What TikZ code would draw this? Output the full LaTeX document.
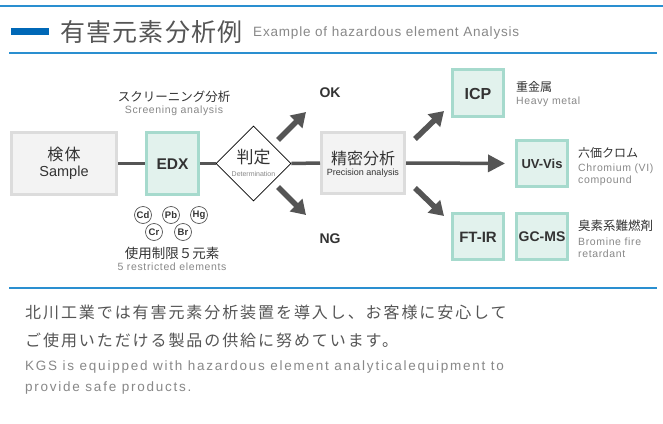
\documentclass[tikz,border=0pt]{standalone}
\usepackage{fontspec}
\setmainfont{Liberation Sans}
\newfontfamily\jp{Noto Sans CJK JP}
\newfontfamily\jpt[LetterSpace=5]{Noto Sans CJK JP}
\newfontfamily\jpsp[LetterSpace=9]{Noto Sans CJK JP}
\newfontfamily\jpbody[LetterSpace=12]{Noto Sans CJK JP}
\newfontfamily\lsp[LetterSpace=6]{Liberation Sans}
\newfontfamily\lspw[LetterSpace=13]{Liberation Sans}
\newfontfamily\bsans{Liberation Sans Bold}
\usetikzlibrary{shapes.geometric,arrows.meta}
\definecolor{blueline}{HTML}{2A8FD0}
\definecolor{bluebar}{HTML}{0068B7}
\definecolor{conncol}{HTML}{555555}
\definecolor{gboxfill}{HTML}{F3F3F3}
\definecolor{gboxdraw}{HTML}{DCDCDC}
\definecolor{tboxfill}{HTML}{E2F2ED}
\definecolor{tboxdraw}{HTML}{A6DACD}
\definecolor{darktext}{HTML}{333333}
\definecolor{midtext}{HTML}{555555}
\definecolor{lighttext}{HTML}{888888}
\newcommand\fsz[1]{\fontsize{#1}{#1}\selectfont}
\begin{document}
\begin{tikzpicture}[x=1pt,y=-1pt,
  graybox/.style={draw=gboxdraw,fill=gboxfill,line width=3pt,inner sep=0pt},
  tealbox/.style={draw=tboxdraw,fill=tboxfill,line width=3pt,inner sep=0pt},
  conn/.style={draw=conncol,line width=3.5pt},
  bigarrow/.style={draw=conncol,line width=5.5pt,-{Triangle[length=14pt,width=17pt]}},
  harrow/.style={draw=conncol,line width=3.5pt,-{Triangle[length=17pt,width=17pt]}},
  elem/.style={circle,draw=conncol,line width=0.7pt,minimum size=17pt,inner sep=0pt,font=\fsz{9.5}\bfseries,text=darktext,fill=white},
  lbl/.style={inner sep=0pt},
  ]
\useasboundingbox[fill=white] (0,0) rectangle (663,423);
% header
\draw[blueline,line width=2pt] (0,5.5) -- (663,5.5);
\draw[blueline,line width=2pt] (9,53) -- (657,53);
\fill[bluebar] (11,28) rectangle (49,34.5);
\node[lbl,anchor=west,text=midtext,font=\jpt\fsz{25}] (title) at (60,32) {有害元素分析例};
\node[lbl,anchor=west,text=lighttext,font=\lsp\fsz{13.5}] (etitle) at (253,33) {Example of hazardous element Analysis};
% boxes
\node[graybox,minimum width=105pt,minimum height=62pt] (sample) at (64,163.5) {};
\node[lbl,text=darktext,font=\jpsp\fsz{16}] (sampleJ) at (64,154) {検体};
\node[lbl,text=darktext,font=\fsz{14.5}] (sampleE) at (64,173) {Sample};
\node[tealbox,minimum width=52pt,minimum height=62pt] (edx) at (172.5,163.5) {};
\node[lbl,text=darktext,font=\bsans\fsz{15.5}] (edxT) at (172.5,164) {EDX};
\node[diamond,draw=black,line width=0.8pt,fill=white,minimum width=75pt,minimum height=75pt,inner sep=0pt] (judge) at (253.5,163.5) {};
\node[lbl,text=darktext,font=\jp\fsz{17}] (judgeJ) at (253.5,157.5) {判定};
\node[lbl,text=lighttext,font=\fsz{7}] (judgeE) at (253.5,174) {Determination};
\node[graybox,minimum width=83pt,minimum height=61pt] (prec) at (363,163) {};
\node[lbl,text=darktext,font=\jp\fsz{16}] (precJ) at (363,158) {精密分析};
\node[lbl,text=darktext,font=\fsz{9}] (precE) at (363,173) {Precision analysis};
\node[tealbox,minimum width=51pt,minimum height=47pt] (icp) at (478,93) {};
\node[lbl,text=darktext,font=\bsans\fsz{16}] (icpT) at (478,94) {ICP};
\node[tealbox,minimum width=51pt,minimum height=46pt] (uvvis) at (542,163.5) {};
\node[lbl,text=darktext,font=\bsans\fsz{13}] (uvvisT) at (542,164) {UV-Vis};
\node[tealbox,minimum width=51pt,minimum height=46pt] (ftir) at (478,236.5) {};
\node[lbl,text=darktext,font=\bsans\fsz{15}] (ftirT) at (478,237) {FT-IR};
\node[tealbox,minimum width=51pt,minimum height=46pt] (gcms) at (542,236.5) {};
\node[lbl,text=darktext,font=\bsans\fsz{14}] (gcmsT) at (542,237) {GC-MS};
% labels
\node[lbl,text=darktext,font=\jp\fsz{12.5}] (scrJ) at (174,97) {スクリーニング分析};
\node[lbl,text=lighttext,font=\lsp\fsz{10.5}] (scrE) at (174,111) {Screening analysis};
\node[elem] (cd) at (143,215) {Cd};
\node[elem] (pb) at (171,215) {Pb};
\node[elem] (hg) at (199,215) {Hg};
\node[elem] (cr) at (154,232) {Cr};
\node[elem] (br) at (183,232) {Br};
\node[lbl,text=darktext,font=\jp\fsz{13.5}] (resJ) at (172,253) {使用制限５元素};
\node[lbl,text=lighttext,font=\lsp\fsz{10.5}] (resE) at (172,267) {5 restricted elements};
\node[lbl,text=darktext,font=\bsans\fsz{14}] (ok) at (330,93) {OK};
\node[lbl,text=darktext,font=\bsans\fsz{14}] (ng) at (330,239) {NG};
\node[lbl,anchor=west,text=darktext,font=\jp\fsz{12}] (hmJ) at (516,87) {重金属};
\node[lbl,anchor=west,text=lighttext,font=\lsp\fsz{10.5}] (hmE) at (516,102) {Heavy metal};
\node[lbl,anchor=west,text=darktext,font=\jp\fsz{12}] (crJ) at (578,153) {六価クロム};
\node[lbl,anchor=west,text=lighttext,font=\lsp\fsz{10.5}] (crE1) at (578,169) {Chromium (VI)};
\node[lbl,anchor=west,text=lighttext,font=\lsp\fsz{10.5}] (crE2) at (578,180.5) {compound};
\node[lbl,anchor=west,text=darktext,font=\jp\fsz{12.5}] (bfJ) at (578,226) {臭素系難燃剤};
\node[lbl,anchor=west,text=lighttext,font=\lsp\fsz{10.5}] (bfE1) at (578,242) {Bromine fire};
\node[lbl,anchor=west,text=lighttext,font=\lsp\fsz{10.5}] (bfE2) at (578,253.5) {retardant};
% connectors
\draw[conn] (sample.east) -- (edx.west);
\draw[conn] (edx.east) -- (judge.west);
\draw[conn] (judge.east) -- (prec.west);
\coordinate (okS) at (278,140); \coordinate (okE) at (306,112);
\coordinate (ngS) at (278,187); \coordinate (ngE) at (306,215);
\coordinate (upS) at (415,139); \coordinate (upE) at (444,111);
\coordinate (dnS) at (415,188); \coordinate (dnE) at (444,216);
\draw[bigarrow] (okS) -- (okE);
\draw[bigarrow] (ngS) -- (ngE);
\draw[bigarrow] (upS) -- (upE);
\draw[bigarrow] (dnS) -- (dnE);
\draw[harrow,shorten >=10pt] (prec.east) -- (uvvis.west);
% bottom
\draw[blueline,line width=1.5pt] (9,288) -- (657,288);
\node[lbl,anchor=west,text=midtext,font=\jpbody\fsz{16}] (bt1) at (25,312) {北川工業では有害元素分析装置を導入し、お客様に安心して};
\node[lbl,anchor=west,text=midtext,font=\jpbody\fsz{16}] (bt2) at (25,340) {ご使用いただける製品の供給に努めています。};
\node[lbl,anchor=west,text=lighttext,font=\lspw\fsz{13.5}] (bt3) at (25,367) {KGS is equipped with hazardous element analyticalequipment to};
\node[lbl,anchor=west,text=lighttext,font=\lspw\fsz{13.5}] (bt4) at (25,388) {provide safe products.};
\end{tikzpicture}
\end{document}
